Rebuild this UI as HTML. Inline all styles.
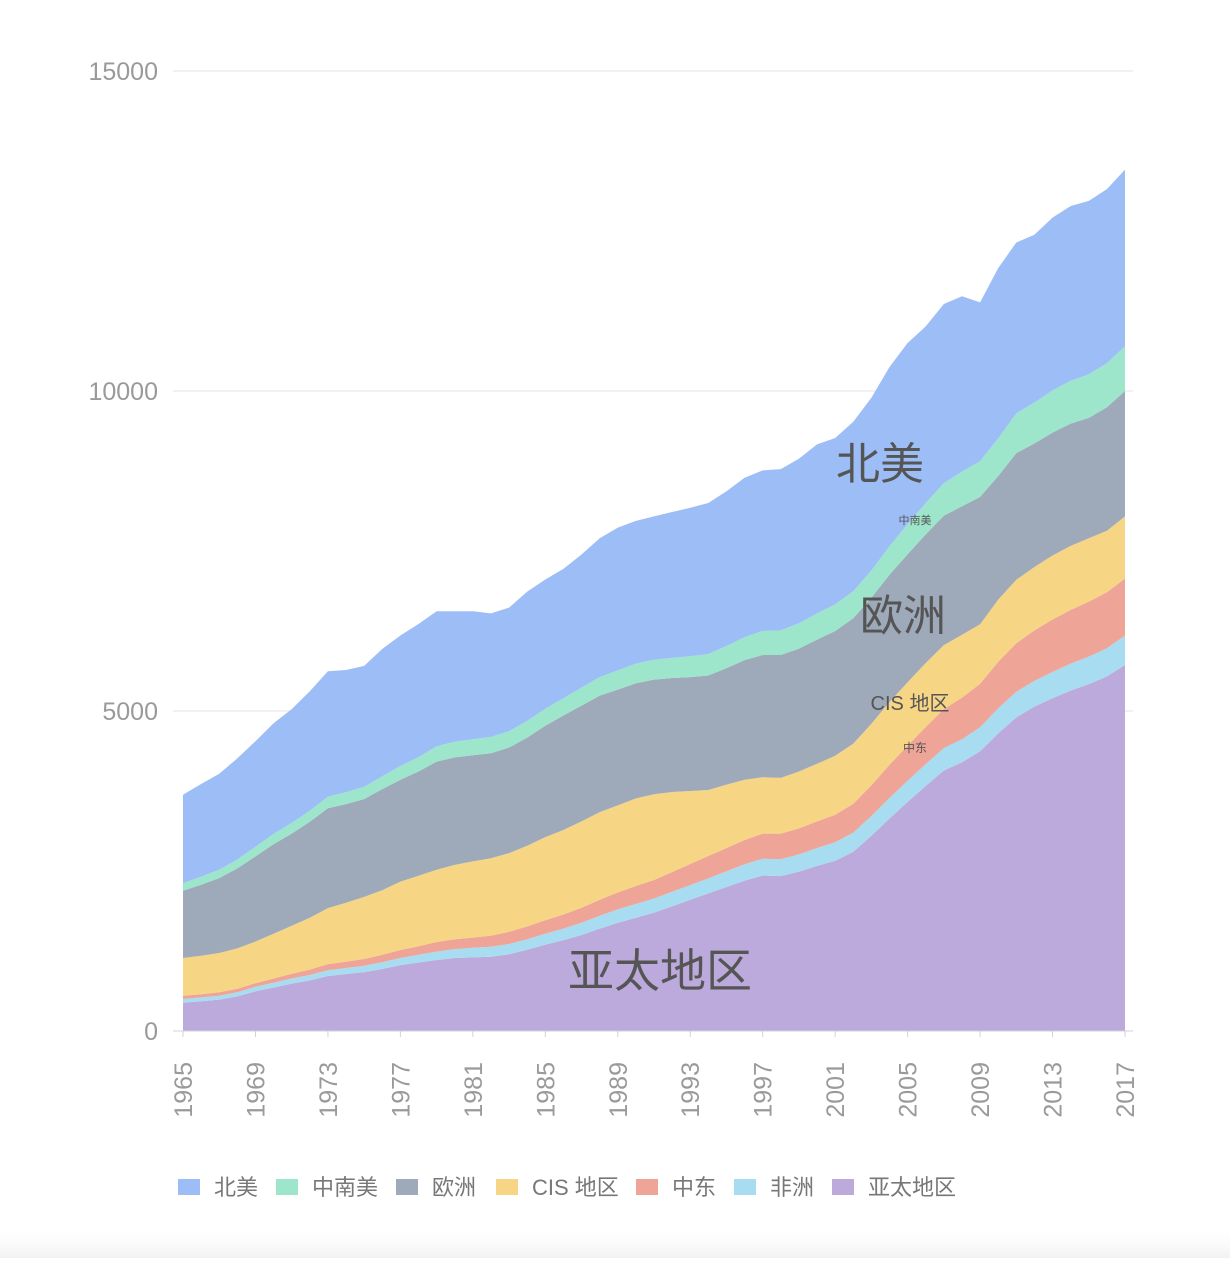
<!DOCTYPE html>
<html><head><meta charset="utf-8"><style>
body{margin:0;background:#fff;width:1230px;height:1258px;overflow:hidden;font-family:"Liberation Sans","Noto Sans CJK SC",sans-serif;}
</style></head><body>
<svg id="chart" width="1230" height="1258" xmlns="http://www.w3.org/2000/svg" font-family="Liberation Sans, Noto Sans CJK SC, sans-serif">
<defs><linearGradient id="fade" x1="0" y1="0" x2="0" y2="1"><stop offset="0" stop-color="#fff" stop-opacity="0"/><stop offset="1" stop-color="#f2f2f2"/></linearGradient></defs>
<rect x="0" y="1225" width="1230" height="33" fill="url(#fade)"/>
</svg>
<script>
const years = [];
for (let y = 1965; y <= 2017; y++) years.push(y);
const seriesNames = ["北美","中南美","欧洲","CIS 地区","中东","非洲","亚太地区"];
const apValues = [440,465,490,540,620,680,740,790,860,890,920,970,1030,1070,1110,1140,1150,1160,1200,1270,1350,1420,1500,1600,1690,1770,1850,1950,2050,2150,2250,2350,2430,2420,2490,2580,2660,2800,3050,3320,3580,3830,4070,4200,4370,4650,4900,5070,5200,5320,5420,5540,5720];
const africaValues = [60,60,62,65,70,75,80,85,90,95,100,105,110,120,130,140,150,155,160,165,170,180,190,200,210,215,220,225,230,235,245,255,260,265,270,280,290,300,310,320,330,340,350,360,375,390,400,400,410,420,430,440,460];
const meValues = [50,50,52,55,58,65,75,85,95,100,105,115,125,135,150,155,160,175,190,200,210,220,235,250,265,280,290,310,330,350,365,380,395,400,405,415,430,450,480,520,550,580,610,650,680,730,760,790,820,840,860,875,890];
const cisValues = [590,600,615,630,650,700,750,810,875,920,970,1010,1070,1100,1130,1160,1190,1210,1230,1260,1300,1320,1350,1370,1360,1370,1340,1250,1140,1030,990,940,880,870,890,900,920,940,960,980,990,1000,1000,980,930,970,990,990,1000,1000,990,960,970];
const europeValues = [1050,1110,1170,1250,1330,1400,1440,1500,1560,1540,1530,1580,1590,1630,1690,1680,1660,1640,1650,1690,1740,1790,1810,1820,1810,1800,1790,1780,1780,1790,1820,1870,1910,1920,1920,1940,1950,1960,1970,1990,2000,2010,2020,2010,1990,1930,1980,1930,1920,1910,1880,1930,1960];
const scaValues = [120,125,130,140,150,160,165,170,180,185,190,200,215,225,240,245,250,255,255,260,265,270,280,290,300,305,310,315,325,335,345,360,375,385,395,410,415,420,425,445,470,490,510,540,560,590,620,640,660,670,680,690,700];
const naValues = [1380,1450,1500,1580,1650,1730,1780,1870,1960,1910,1890,1990,2040,2080,2110,2040,2000,1930,1930,2020,2020,2020,2080,2170,2230,2230,2240,2280,2320,2360,2420,2490,2510,2520,2570,2640,2600,2650,2700,2800,2830,2760,2800,2740,2480,2660,2670,2620,2700,2730,2710,2720,2760];
const yTicks = [0,5000,10000,15000];
const xTickYears = [1965,1969,1973,1977,1981,1985,1989,1993,1997,2001,2005,2009,2013,2017];

const NS = "http://www.w3.org/2000/svg";
const svg = document.getElementById("chart");
const X0 = 183, X1 = 1125, Y0 = 1031, Y1 = 71;
const xScale = y => X0 + (y - 1965) / (2017 - 1965) * (X1 - X0);
const yScale = v => Y0 - v / 15000 * (Y0 - Y1);
function mk(tag, attrs, parent) {
  const e = document.createElementNS(NS, tag);
  for (const k in attrs) e.setAttribute(k, attrs[k]);
  (parent || svg).appendChild(e);
  return e;
}
yTicks.forEach(t => {
  if (t > 0) {
    const g = mk("line", {x1:173, x2:1133, y1:yScale(t), y2:yScale(t), stroke:"#e3e3e3", "stroke-width":1});
    
    
  }
  const lb = mk("text", {x:158, y:yScale(t)+9, "text-anchor":"end", "font-size":25, fill:"#9a9a9a"});
  lb.textContent = t;
  
  
});
const stackOrder = [
  {vals: apValues, color:"#bdaadc", name:"area-asia-pacific"},
  {vals: africaValues, color:"#a8ddf1", name:"area-africa"},
  {vals: meValues, color:"#eea597", name:"area-middle-east"},
  {vals: cisValues, color:"#f6d685", name:"area-cis"},
  {vals: europeValues, color:"#9ea9b9", name:"area-europe"},
  {vals: scaValues, color:"#9ee6cb", name:"area-south-central-america"},
  {vals: naValues, color:"#9dbdf7", name:"area-north-america"}
];
let base = years.map(() => 0);
stackOrder.forEach(s => {
  const top = base.map((b, i) => b + s.vals[i]);
  let d = "M" + years.map((y, i) => xScale(y).toFixed(1) + "," + yScale(top[i]).toFixed(1)).join("L");
  for (let i = years.length - 1; i >= 0; i--) d += "L" + xScale(years[i]).toFixed(1) + "," + yScale(base[i]).toFixed(1);
  d += "Z";
  const p = mk("path", {d: d, fill: s.color});
  
  
  base = top;
});
const ax = mk("line", {x1:173, x2:1133, y1:Y0, y2:Y0, stroke:"#cfd3dc", "stroke-width":1});


xTickYears.forEach(y => {
  const x = xScale(y);
  const tk = mk("line", {x1:x, x2:x, y1:Y0, y2:Y0+6, stroke:"#cfd3dc"});
  
  
  const t = mk("text", {x:0, y:0, "text-anchor":"end", "font-size":25, fill:"#9a9a9a",
    transform:"translate(" + (x+9) + ",1062) rotate(-90)"});
  t.textContent = y;
  
  
});
const areaLabels = [
  {t:"北美", x:880, y:479, s:44, n:"label-north-america"},
  {t:"中南美", x:915, y:524, s:11, n:"label-south-central-america"},
  {t:"欧洲", x:903, y:631, s:43, n:"label-europe"},
  {t:"CIS 地区", x:910, y:710, s:20, n:"label-cis"},
  {t:"中东", x:915, y:752, s:12, n:"label-middle-east"},
  {t:"亚太地区", x:660, y:987, s:46, n:"label-asia-pacific"}
];
areaLabels.forEach(l => {
  const t = mk("text", {x:l.x, y:l.y, "text-anchor":"middle", "font-size":l.s, fill:"#555"});
  t.textContent = l.t;
  
  
});
const legendColors = ["#9dbdf7","#9ee6cb","#9ea9b9","#f6d685","#eea597","#a8ddf1","#bdaadc"];
const legendX = [178,276,396,496,636,734,832];
seriesNames.forEach((n, i) => {
  const g = mk("g", {});
  
  
  mk("rect", {x:legendX[i], y:1179, width:22, height:16, fill:legendColors[i]}, g);
  const t = mk("text", {x:legendX[i]+36, y:1195, "font-size":22, fill:"#777"}, g);
  t.textContent = n;
});
</script>
</body></html>
